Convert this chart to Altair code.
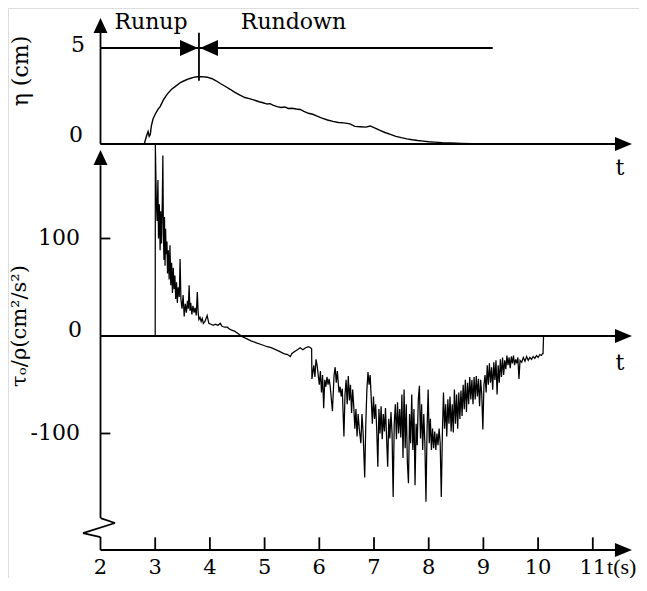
import altair as alt
import pandas as pd

# ---------------- data ----------------
# surface elevation eta (cm) vs time (s)
ETA_T = [2.00, 2.80, 2.84, 2.87, 2.89, 2.91, 2.93, 2.96, 3.00, 3.05, 3.09, 3.15, 3.22, 3.30,
         3.37, 3.46, 3.55, 3.62, 3.70, 3.77, 3.85, 3.95, 4.04, 4.12, 4.19, 4.27, 4.37, 4.45,
         4.55, 4.64, 4.72, 4.80, 4.90, 4.97, 5.05, 5.10, 5.15, 5.23, 5.30, 5.37, 5.43, 5.50,
         5.58, 5.65, 5.72, 5.80, 5.88, 5.96, 6.05, 6.15, 6.25, 6.35, 6.45, 6.56, 6.65, 6.75,
         6.85, 6.93, 7.00, 7.10, 7.20, 7.30, 7.40, 7.50, 7.60, 7.70, 7.80, 7.90, 8.00, 8.10,
         8.25, 8.40, 8.60, 8.80, 9.00, 10.70]
ETA_CM = [0.0, 0.0, 0.4, 0.65, 0.4, 0.5, 0.95, 1.3, 1.55, 1.8, 1.95, 2.3, 2.6, 2.85,
          3.0, 3.2, 3.32, 3.4, 3.47, 3.5, 3.51, 3.48, 3.4, 3.28, 3.15, 3.02, 2.85, 2.7,
          2.55, 2.42, 2.36, 2.3, 2.2, 2.15, 2.08, 2.1, 2.02, 1.95, 1.9, 1.93, 1.85, 1.86,
          1.82, 1.8, 1.7, 1.6, 1.55, 1.45, 1.35, 1.25, 1.18, 1.12, 1.1, 1.05, 0.92, 0.9,
          0.88, 0.94, 0.85, 0.72, 0.6, 0.5, 0.4, 0.33, 0.27, 0.22, 0.18, 0.15, 0.12, 0.1,
          0.07, 0.05, 0.03, 0.02, 0.0, 0.0]

# bed shear stress tau0/rho (cm^2/s^2) vs time (s)
TAU_T = [2.00, 3.00, 3.003, 3.02, 3.035, 3.05, 3.06, 3.075, 3.09, 3.10, 3.115, 3.13, 3.14,
         3.15, 3.16, 3.17, 3.18, 3.19, 3.20, 3.215, 3.225, 3.24, 3.255, 3.27, 3.285, 3.30,
         3.315, 3.33, 3.345, 3.36, 3.375, 3.39, 3.405, 3.42, 3.44, 3.455, 3.47, 3.49, 3.51,
         3.53, 3.55, 3.57, 3.59, 3.605, 3.62, 3.635, 3.65, 3.67, 3.69, 3.71, 3.73, 3.75,
         3.77, 3.785, 3.80, 3.82, 3.84, 3.86, 3.88, 3.91, 3.95, 3.98, 4.02, 4.06, 4.10,
         4.15, 4.19, 4.22, 4.27, 4.32, 4.36, 4.40, 4.45, 4.50, 4.55, 4.60, 4.68, 4.75,
         4.85, 4.95, 5.05, 5.12, 5.20, 5.28, 5.35, 5.42, 5.47, 5.50, 5.55, 5.60, 5.65,
         5.70, 5.75, 5.80, 5.84, 5.86,
         5.865, 5.88, 5.90, 5.92, 5.94, 5.96, 5.98, 6.00, 6.02, 6.04, 6.06, 6.08, 6.10,
         6.12, 6.14, 6.16, 6.18, 6.20, 6.24, 6.27, 6.29, 6.31, 6.33, 6.36, 6.38, 6.40,
         6.42, 6.45, 6.47, 6.49, 6.51, 6.53, 6.55, 6.57, 6.59, 6.61, 6.63, 6.65, 6.67,
         6.69, 6.71, 6.73, 6.76, 6.78, 6.80, 6.83, 6.85, 6.87, 6.89, 6.91, 6.93, 6.95,
         6.97, 6.99, 7.01, 7.03, 7.05, 7.07, 7.09, 7.11, 7.13, 7.15, 7.17, 7.19, 7.21,
         7.23, 7.25, 7.27, 7.29, 7.31, 7.33, 7.35, 7.37, 7.39, 7.41, 7.43, 7.45, 7.47,
         7.49, 7.51, 7.53, 7.55, 7.57, 7.59, 7.61, 7.63, 7.65, 7.67, 7.69, 7.71, 7.73,
         7.75, 7.77, 7.79, 7.81, 7.83, 7.85, 7.87, 7.89, 7.91, 7.93, 7.95, 7.97, 7.99,
         8.01, 8.03, 8.05, 8.07, 8.09, 8.11, 8.13, 8.15, 8.17, 8.19, 8.21, 8.23, 8.25,
         8.27, 8.29, 8.31, 8.33, 8.35, 8.37, 8.39, 8.41, 8.43, 8.45, 8.47, 8.49, 8.51,
         8.53, 8.55, 8.57, 8.59, 8.61, 8.63, 8.65, 8.67, 8.69, 8.71, 8.73, 8.75, 8.77,
         8.79, 8.81, 8.83, 8.85, 8.87, 8.89, 8.91, 8.93, 8.95, 8.97, 8.99, 9.01, 9.03,
         9.05, 9.07, 9.09, 9.11, 9.13, 9.15, 9.17, 9.19, 9.21, 9.23, 9.25, 9.27, 9.29,
         9.31, 9.33, 9.35, 9.37, 9.39, 9.41, 9.43, 9.45, 9.47, 9.49, 9.51, 9.53, 9.55,
         9.57, 9.59, 9.61, 9.63, 9.65, 9.67, 9.70, 9.73, 9.76, 9.79, 9.82, 9.85, 9.88,
         9.91, 9.94, 9.97, 10.00, 10.03, 10.06, 10.08, 10.09, 10.10, 10.80]
TAU_V = [0, 0, 196, 140, 118, 160, 100, 135, 88, 128, 95, 140, 185,
         105, 78, 122, 72, 110, 84, 97, 64, 88, 58, 93, 52, 75,
         44, 70, 48, 62, 38, 55, 34, 50, 40, 79, 38, 28, 42,
         20, 33, 24, 36, 28, 52, 26, 34, 22, 31, 24, 29, 21,
         45, 24, 17, 19, 15, 18, 13, 15, 21, 13, 12, 11, 12,
         11, 13, 10, 9, 9, 7, 6, 5, 3, 1, -1, -3, -5,
         -7, -9, -11, -12, -14, -16, -18, -19, -21, -18, -16, -14, -12,
         -14, -12, -11, -12, -13,
         -44, -38, -30, -42, -24, -30, -40, -50, -36, -58, -40, -74, -45,
         -52, -42, -50, -44, -52, -77, -40, -32, -48, -36, -58, -52, -62,
         -54, -103, -60, -45, -70, -41, -66, -50, -79, -55, -72, -95, -75,
         -103, -80, -95, -110, -80, -98, -145, -90, -55, -37, -50, -40, -65,
         -90, -62, -85, -70, -96, -134, -75, -100, -72, -106, -80, -98, -74,
         -104, -134, -85, -105, -78, -100, -165, -90, -70, -106, -68, -100, -75,
         -104, -60, -125, -55, -115, -70, -130, -151, -80, -110, -60, -117, -75,
         -153, -90, -112, -65, -51, -105, -70, -117, -80, -110, -170, -95, -55,
         -110, -85, -117, -95, -115, -98, -117, -100, -112, -95, -110, -165, -100,
         -58, -95, -70, -103, -65, -90, -62, -98, -70, -99, -55, -90, -60,
         -95, -58, -85, -56, -82, -50, -75, -45, -78, -48, -70, -42, -65,
         -45, -70, -42, -65, -41, -62, -44, -72, -45, -60, -96, -50, -40,
         -58, -30, -50, -28, -48, -32, -55, -27, -45, -25, -60, -30, -48,
         -24, -42, -22, -40, -25, -34, -20, -30, -22, -33, -21, -28, -20,
         -30, -24, -28, -22, -44, -25, -27, -22, -26, -21, -25, -22, -24,
         -21, -23, -20, -22, -19, -20, -18, -18, 0, 0]

T_TICKS = [3, 4, 5, 6, 7, 8, 9, 10, 11]
T_LABEL_VALUES = [2, 3, 4, 5, 6, 7, 8, 9, 10, 11]
T_LABELS = ["2", "3", "4", "5", "6", "7", "8", "9", "10", "11"]
ETA_LABELS = ["5", "0"]
TAU_TICKS = [100, -100]
TAU_LABELS = ["100", "0", "-100"]

# ---------------- geometry of the figure ----------------
W, H = 631, 570
FONT = "DejaVu Serif"
XS = alt.Scale(domain=[0.30896, 11.8446], nice=False, zero=False)
YE = alt.Scale(domain=[-22.604, 7.0833], nice=False, zero=False)   # eta (cm)
YT = alt.Scale(domain=[-248.21, 336.41], nice=False, zero=False)   # tau/rho

T_END = 11.56          # end of the t axes (arrow centre)
TAU_BOT = -219.5       # level of the broken bottom axis


def X(f="x"):
    return alt.X(f"{f}:Q", scale=XS, axis=None)


def Y(ys, f="y"):
    return alt.Y(f"{f}:Q", scale=ys, axis=None)


def rules(rows, ys, sw=1.8):
    df = pd.DataFrame(rows, columns=["x", "y", "x2", "y2"])
    return alt.Chart(df).mark_rule(color="black", strokeWidth=sw).encode(
        x=X(), y=Y(ys), x2="x2:Q", y2="y2:Q")


def arrow(rows, ys, shape, size):
    df = pd.DataFrame(rows, columns=["x", "y"])
    return alt.Chart(df).mark_point(shape=shape, size=size, filled=True, color="black",
                                    opacity=1, strokeWidth=0).encode(x=X(), y=Y(ys))


def texts(rows, ys, size=22, align="center", angle=0, baseline="alphabetic", font=FONT):
    df = pd.DataFrame(rows, columns=["x", "y", "label"])
    kw = dict(font=font, fontSize=size, align=align, baseline=baseline, color="black")
    if angle:
        kw["angle"] = angle
    return alt.Chart(df).mark_text(**kw).encode(x=X(), y=Y(ys), text="label:N")


UP = "M0,-1L0.93,1L-0.93,1Z"
RIGHT = "M1,0L-1,-0.82L-1,0.82Z"
BRIGHT = "M1,0L-1,-0.9L-1,0.9Z"
BLEFT = "M-1,0L1,-0.9L1,0.9Z"

# ---------------- upper panel: eta ----------------
eta_df = pd.DataFrame({"t": ETA_T, "eta": ETA_CM})
eta_line = alt.Chart(eta_df).mark_line(color="black", strokeWidth=1.4).encode(
    x=alt.X("t:Q", scale=XS, axis=None), y=alt.Y("eta:Q", scale=YE, axis=None))

upper = alt.layer(
    rules([[2, 0, 2, 6.0], [2, 0, T_END, 0], [2, 5, 9.17, 5], [3.80, 5.8, 3.80, 3.3]], YE),
    arrow([[2, 6.17]], YE, UP, 225),
    arrow([[T_END, 0]], YE, RIGHT, 289),
    arrow([[3.618, 5]], YE, BRIGHT, 324),
    arrow([[3.984, 5]], YE, BLEFT, 324),
    eta_line,
    texts([[2.923, 5.99, "Runup"], [5.528, 5.99, "Rundown"], [11.497, -1.615, "t"]], YE),
    texts([[1.717, 4.79, ETA_LABELS[0]], [1.68, 0.104, ETA_LABELS[1]]], YE, align="right"),
    texts([[0.547, 3.80, "η (cm)"]], YE, angle=270, baseline="middle"),
)

# ---------------- lower panel: tau ----------------
tau_df = pd.DataFrame({"t": TAU_T, "tau": TAU_V})
tau_line = alt.Chart(tau_df).mark_line(color="black", strokeWidth=1.25).encode(
    x=alt.X("t:Q", scale=XS, axis=None), y=alt.Y("tau:Q", scale=YT, axis=None))

axis_rows = [
    [2, 175, 2, -186.7],
    [2, -186.7, 2.265, -191.8],
    [2.265, -191.8, 1.68, -202.1],
    [1.68, -202.1, 2, -206.2],
    [2, -206.2, 2, TAU_BOT],
    [2, TAU_BOT, T_END, TAU_BOT],
    [2, 0, T_END, 0],
]
axis_rows += [[2, v, 2.18, v] for v in TAU_TICKS]
axis_rows += [[t, TAU_BOT, t, -206.5] for t in T_TICKS]

tau_label_pos = {"100": (1.625, 93.3), "0": (1.662, -1.0), "-100": (1.625, -106.7)}
BOT_LABEL_Y = -244.1
lower = alt.layer(
    rules(axis_rows, YT),
    arrow([[2, 183.1]], YT, UP, 225),
    arrow([[T_END, 0], [T_END, TAU_BOT]], YT, RIGHT, 289),
    tau_line,
    texts([[tau_label_pos[l][0], tau_label_pos[l][1], l] for l in TAU_LABELS], YT, align="right"),
    texts([[v, BOT_LABEL_Y, l] for v, l in zip(T_LABEL_VALUES, T_LABELS)], YT, size=21),
    texts([[11.26, BOT_LABEL_Y, "t(s)"]], YT, size=22, align="left", font="Liberation Serif"),
    texts([[11.497, -34.9, "t"]], YT),
    texts([[0.53, 10.3, "τₒ/ρ(cm²/s²)"]], YT, size=21, angle=270, baseline="middle"),
)

chart = alt.layer(upper, lower).resolve_scale(y="independent").properties(
    width=W, height=H, autosize=alt.AutoSizeParams(type="none"), padding=0
).configure_view(strokeWidth=0, strokeOpacity=0).configure(background="white")

chart.save("out.html", embed_options={"renderer": "svg", "actions": False})
